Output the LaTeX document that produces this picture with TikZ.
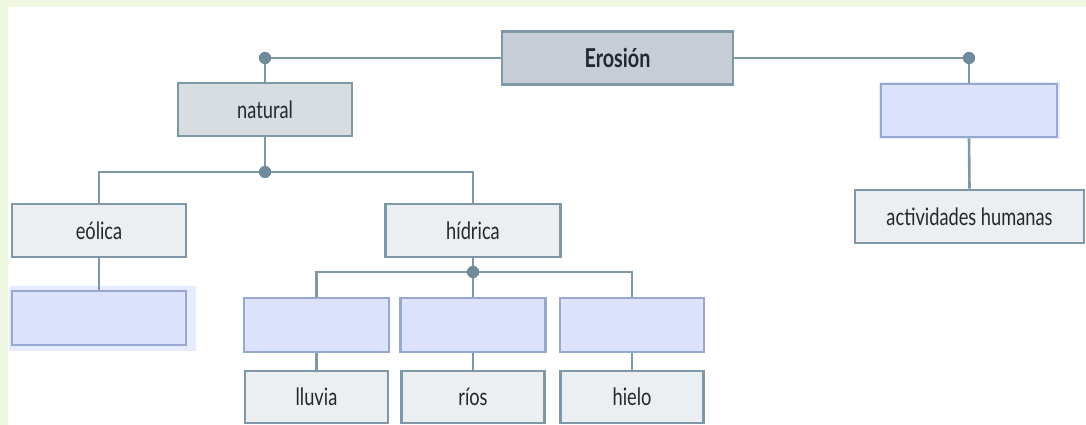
\documentclass[tikz,border=0pt]{standalone}
\usepackage{fontspec}
\newfontfamily\lbl[FakeStretch=0.76]{Lato}
\definecolor{bgframe}{HTML}{EEF7DF}
\definecolor{linec}{HTML}{7F98A8}
\definecolor{dotc}{HTML}{6F8A9B}
\definecolor{erofill}{HTML}{C6CDD6}
\definecolor{natfill}{HTML}{D8DDE2}
\definecolor{lblfill}{HTML}{ECEFF1}
\definecolor{blankfill}{HTML}{DDE3FC}
\definecolor{blankdraw}{HTML}{98A9CF}
\definecolor{halo}{HTML}{E6EBFD}
\definecolor{txt}{HTML}{23282F}
\tikzset{
  box/.style={draw=linec, line width=2.6pt, rectangle, inner sep=0pt, text=txt,
    font=\lbl\fontsize{24}{28}\selectfont},
  erobox/.style={box, fill=erofill, minimum width=231pt, minimum height=53pt,
    font=\lbl\bfseries\fontsize{26}{30}\selectfont},
  natbox/.style={box, fill=natfill, minimum width=174pt, minimum height=53pt},
  lblbox/.style={box, fill=lblfill},
  blankbox/.style={box, draw=blankdraw, fill=blankfill},
  conn/.style={draw=linec, line width=2.6pt},
  joint/.style={circle, fill=dotc, inner sep=0pt, minimum size=12pt}
}
\begin{document}
\begin{tikzpicture}[x=1pt,y=-1pt]
\useasboundingbox (0,0) rectangle (1086,425);
\fill[bgframe] (0,0) rectangle (1086,425);
\fill[white] (8,7) rectangle (1086,425);
% halos
\fill[halo] (9,286) rectangle (196,351);
\fill[halo] (879,82) rectangle (1060,139);
% nodes
\node[erobox] (ero) at (617.5,58) {Erosión};
\node[natbox] (nat) at (265,109.5) {natural};
\node[lblbox, minimum width=174pt, minimum height=53pt] (eol) at (99,230.5) {eólica};
\node[lblbox, minimum width=175pt, minimum height=53pt] (hid) at (473,230.5) {hídrica};
\node[blankbox, minimum width=174pt, minimum height=54pt] (b1) at (99,318) {};
\node[blankbox, minimum width=145pt, minimum height=54pt] (b2) at (316.5,325) {};
\node[blankbox, minimum width=145pt, minimum height=54pt] (b3) at (473,325) {};
\node[blankbox, minimum width=144pt, minimum height=54pt] (b4) at (632,325) {};
\node[lblbox, minimum width=143pt, minimum height=52pt] (llu) at (316.5,397) {lluvia};
\node[lblbox, minimum width=143pt, minimum height=52pt] (rio) at (473,397) {ríos};
\node[lblbox, minimum width=143pt, minimum height=52pt] (hie) at (632,397) {hielo};
\node[blankbox, minimum width=176pt, minimum height=53pt] (b5) at (969,110.5) {};
\node[lblbox, minimum width=229pt, minimum height=53pt] (act) at (969.5,216.5) {actividades humanas};
% joints
\node[joint] (d1) at (265,58) {};
\node[joint] (d2) at (969,58) {};
\node[joint] (d3) at (265,172) {};
\node[joint] (d4) at (473,272) {};
% connectors
\draw[conn] (ero.west) -- (d1.center) -- (nat.north);
\draw[conn] (ero.east) -- (d2.center) -- (b5.north);
\draw[conn] (b5.south) -- (act.north);
\draw[conn] (nat.south) -- (d3.center);
\draw[conn] (eol.north) |- (d3.center) -| (hid.north);
\draw[conn] (eol.south) -- (b1.north);
\draw[conn] (hid.south) -- (d4.center);
\draw[conn] (b2.north) |- (d4.center) -| (b4.north);
\draw[conn] (d4.center) -- (b3.north);
\draw[conn] (b2.south) -- (llu.north);
\draw[conn] (b3.south) -- (rio.north);
\draw[conn] (b4.south) -- (hie.north);
% joints on top of the lines
\fill[dotc] (d1) circle (6pt) (d2) circle (6pt) (d3) circle (6pt) (d4) circle (6pt);
\end{tikzpicture}
\end{document}
